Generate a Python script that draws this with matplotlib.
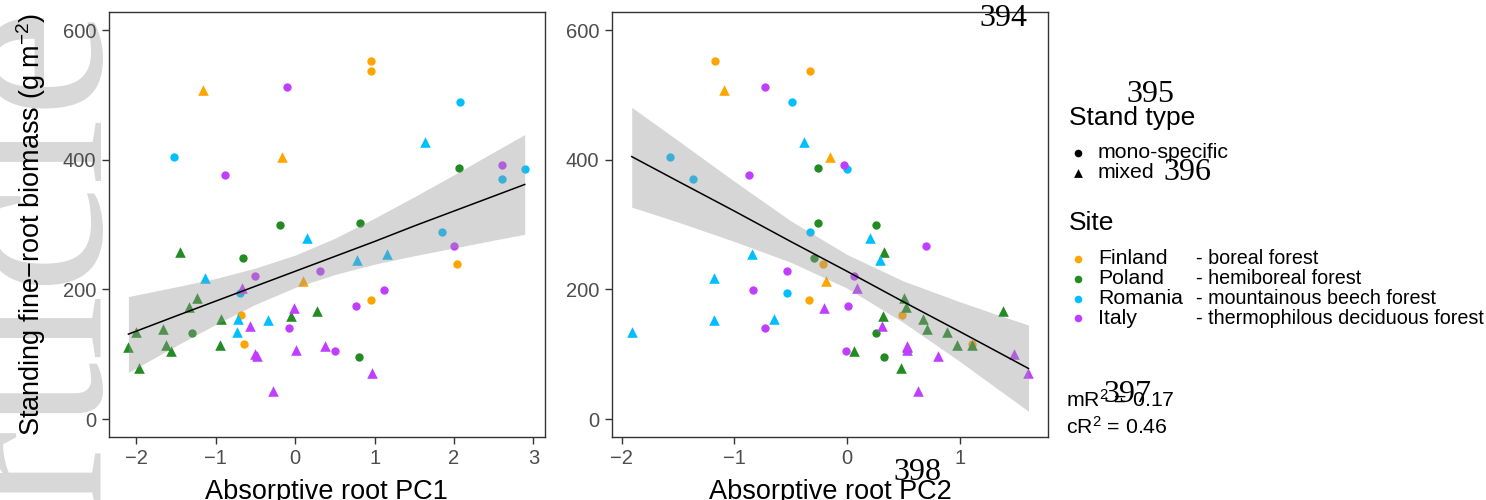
import matplotlib
matplotlib.use('Agg')
import matplotlib.pyplot as plt
import numpy as np

plt.rcParams['font.family'] = ['Liberation Sans', 'DejaVu Sans']
plt.rcParams['mathtext.fontset'] = 'custom'
plt.rcParams['mathtext.rm'] = 'Liberation Sans'
plt.rcParams['mathtext.it'] = 'Liberation Sans:italic'
plt.rcParams['mathtext.bf'] = 'Liberation Sans:bold'

# ---------------- data ----------------
sites = ['Finland', 'Poland', 'Romania', 'Italy']
site_desc = ['- boreal forest', '- hemiboreal forest',
             '- mountainous beech forest', '- thermophilous deciduous forest']
site_colors = ['#FFA500', '#228B22', '#00BFFF', '#BF3EFF']
stand_types = ['mono-specific', 'mixed']
stand_markers = ['o', '^']

site = (['Finland'] * 9 + ['Poland'] * 19 + ['Romania'] * 14 + ['Italy'] * 19)
stand = (['mono-specific'] * 6 + ['mixed'] * 3 +
         ['mono-specific'] * 6 + ['mixed'] * 13 +
         ['mono-specific'] * 6 + ['mixed'] * 8 +
         ['mono-specific'] * 10 + ['mixed'] * 9)
biomass = [552, 537, 239, 184, 161, 115, 508, 405, 213,
           388, 303, 300, 249, 133, 95, 257, 186, 173, 167, 159, 154, 139, 134, 114, 114, 111, 105, 79,
           489, 404, 386, 371, 288, 195, 428, 279, 255, 245, 218, 155, 153, 134,
           512, 392, 376, 267, 229, 220, 199, 174, 141, 105, 202, 172, 144, 112, 107, 100, 97, 71, 43]
pc1 = [0.95, 0.95, 2.04, 0.96, -0.68, -0.65, -1.16, -0.16, 0.10,
       2.06, 0.81, -0.19, -0.66, -1.30, 0.80, -1.45, -1.24, -1.34, 0.28, -0.05, -0.94, -1.67, -2.00, -1.63, -0.95, -2.10, -1.57, -1.97,
       2.07, -1.53, 2.89, 2.60, 1.85, -0.70, 1.63, 0.15, 1.16, 0.78, -1.13, -0.72, -0.34, -0.73,
       -0.10, 2.61, -0.89, 2.00, 0.31, -0.50, 1.12, 0.76, -0.08, 0.50, -0.67, -0.01, -0.57, 0.38, 0.01, -0.50, -0.48, 0.97, -0.28]
pc2 = [-1.17, -0.33, -0.21, -0.34, 0.49, 1.11, -1.09, -0.15, -0.19,
       -0.26, -0.26, 0.26, -0.29, 0.26, 0.33, 0.33, 0.51, 0.52, 1.38, 0.32, 0.67, 0.71, 0.89, 0.98, 1.11, 0.53, 0.06, 0.48,
       -0.49, -1.57, 0.00, -1.37, -0.33, -0.53, -0.38, 0.20, -0.84, 0.29, -1.18, -0.65, -1.18, -1.91,
       -0.73, -0.03, -0.87, 0.70, -0.53, 0.06, -0.83, 0.01, -0.73, -0.01, 0.09, -0.20, 0.31, 0.53, 0.53, 1.48, 0.81, 1.61, 0.63]

# fitted lines and confidence bands
fit1_x = [-2.10, -1.5, -1.0, -0.5, 0.0, 0.5, 1.0, 1.5, 2.0, 2.5, 2.89]
fit1_y = [131, 159, 182, 205, 228, 251, 274, 298, 321, 344, 362]
fit1_lo = [72, 113, 146, 177, 203, 223, 239, 252, 264, 276, 285]
fit1_hi = [189, 204, 217, 233, 253, 279, 310, 343, 377, 412, 439]

fit2_x = [-1.91, -1.5, -1.0, -0.5, 0.0, 0.5, 1.0, 1.3, 1.61]
fit2_y = [405, 367, 321, 274, 228, 181, 135, 107, 78]
fit2_lo = [327, 304, 274, 242, 202, 149, 89, 51, 12]
fit2_hi = [481, 430, 367, 306, 254, 213, 181, 163, 145]

r2_labels = ['mR$^{\\mathregular{2}}$ = 0.17', 'cR$^{\\mathregular{2}}$ = 0.46']
line_numbers = ['394', '395', '396', '397', '398']

y_ticks = [0, 200, 400, 600]
y_lim = (0, 600)
x1_ticks = [-2, -1, 0, 1, 2, 3]
x2_ticks = [-2, -1, 0, 1]

# ---------------- figure ----------------
W, H = 1486, 500
fig = plt.figure(figsize=(W / 100, H / 100), dpi=100)


def px_axes(x0, y0, x1, y1):
    return fig.add_axes([x0 / W, 1 - y1 / H, (x1 - x0) / W, (y1 - y0) / H])


def fx(x):
    return x / W


def fy(y):
    return 1 - y / H


# watermark
fig.text(fx(100), fy(6), 'Article', rotation=90, rotation_mode='anchor',
         ha='right', va='baseline', fontsize=176, color='#D8D8D8',
         family='Liberation Serif', zorder=-5)

ax1 = px_axes(108.6, 12.0, 544.5, 436.5)
ax2 = px_axes(611.9, 12.0, 1048.3, 436.5)

site_arr = np.array(site)
stand_arr = np.array(stand)
bio = np.array(biomass, dtype=float)

for ax, xv, fx_, fyv, flo, fhi, xticks in [
        (ax1, np.array(pc1), fit1_x, fit1_y, fit1_lo, fit1_hi, x1_ticks),
        (ax2, np.array(pc2), fit2_x, fit2_y, fit2_lo, fit2_hi, x2_ticks)]:
    for s, c in zip(sites, site_colors):
        for st, m in zip(stand_types, stand_markers):
            sel = (site_arr == s) & (stand_arr == st)
            ax.scatter(xv[sel], bio[sel], marker=m, color=c,
                       s=36 if m == 'o' else 58, linewidths=0, zorder=2)
    ax.fill_between(fx_, flo, fhi, color='#999999', alpha=0.4,
                    linewidth=0, zorder=3)
    ax.plot(fx_, fyv, color='black', lw=1.1, zorder=4)
    lo, hi = xv.min(), xv.max()
    pad = 0.05 * (hi - lo)
    ax.set_xlim(lo - pad, hi + pad)
    ypad = 0.045 * (y_lim[1] - y_lim[0])
    ax.set_ylim(y_lim[0] - ypad, y_lim[1] + 0.047 * (y_lim[1] - y_lim[0]))
    ax.set_xticks(xticks)
    ax.set_xticklabels([str(t).replace('-', '\u2212') for t in xticks])
    ax.set_yticks(y_ticks)
    ax.tick_params(direction='out', length=5, width=1.0, color='#333333',
                   labelsize=14.5, labelcolor='#4D4D4D', pad=4)
    for sp in ax.spines.values():
        sp.set_color('#333333')
        sp.set_linewidth(1.0)

# axis titles
fig.text(fx(31), fy(224), 'Standing fine\u2212root biomass (g m$^{\\mathregular{\u22122}}$)',
         rotation=90, ha='center', va='center', fontsize=19.5, color='black')
fig.text(fx((108.6 + 544.5) / 2), fy(499), 'Absorptive root PC1',
         ha='center', va='baseline', fontsize=19.5, color='black')
fig.text(fx((611.9 + 1048.3) / 2), fy(499), 'Absorptive root PC2',
         ha='center', va='baseline', fontsize=19.5, color='black')

# legend (overlay axes in pixel coordinates)
lg = fig.add_axes([0, 0, 1, 1], zorder=5)
lg.set_xlim(0, W)
lg.set_ylim(H, 0)
lg.axis('off')
lg.patch.set_alpha(0)

lg.text(1069, 118, 'Stand type', fontsize=19, va='center', ha='left')
for i, (st, m) in enumerate(zip(stand_types, stand_markers)):
    yy = 153 + i * 20
    lg.scatter([1078], [yy], marker=m, color='black',
               s=30 if m == 'o' else 40, linewidths=0)
    lg.text(1098, yy, st, fontsize=15.3, va='center', ha='left')

lg.text(1069, 223, 'Site', fontsize=19, va='center', ha='left')
for i, (s, d, c) in enumerate(zip(sites, site_desc, site_colors)):
    yy = 259 + i * 19.8
    lg.scatter([1078], [yy], marker='o', color=c, s=30, linewidths=0)
    lg.text(1098, yy, s, fontsize=15.3, va='center', ha='left')
    lg.text(1196, yy, d, fontsize=14.2, va='center', ha='left')

for i, t in enumerate(r2_labels):
    lg.text(1066, 400 + i * 27, t, fontsize=15.3, va='center', ha='left')

# manuscript line numbers
ln_pos = [(1003, 19), (1150, 95), (1187, 172), (1127, 394), (917, 472)]
for t, (xx, yy) in zip(line_numbers, ln_pos):
    lg.text(xx, yy, t, fontsize=23, family='Liberation Serif',
            ha='center', va='center', color='black', zorder=10)

fig.savefig('out.png', dpi=100)
